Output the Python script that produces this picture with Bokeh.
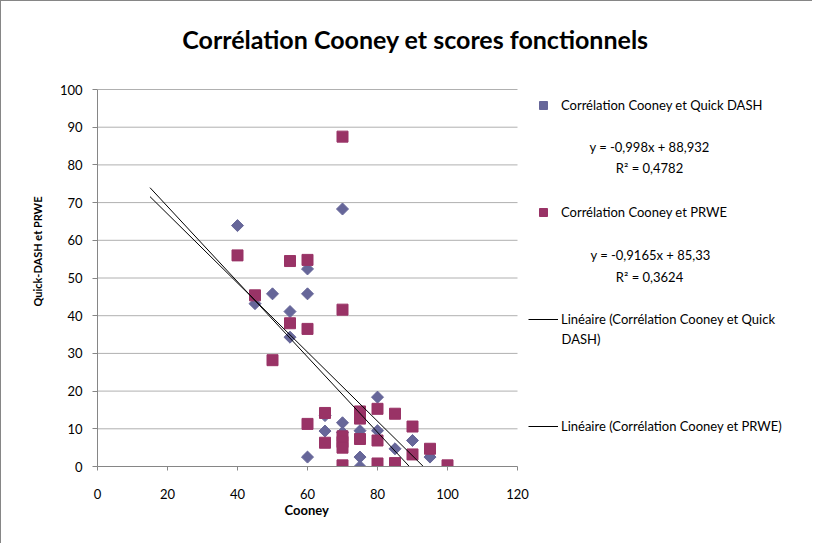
import numpy as np
from bokeh.plotting import figure
from bokeh.models import ColumnDataSource, Legend, LegendItem, Label, FixedTicker, Range1d, Title
from bokeh.embed import file_html
from bokeh.resources import INLINE

# ---------------- data ----------------
chart_title = "Corrélation Cooney et scores fonctionnels"
x_title = "Cooney"
y_title = "Quick-DASH et PRWE"

dash_cooney = [40, 45, 50, 55, 55, 60, 60, 60, 65, 65, 70, 70, 70, 75, 75, 75, 80, 80, 80, 85, 90, 95]
dash_score = [63.9, 43.2, 45.8, 41.1, 34.3, 52.4, 45.8, 2.5, 13.5, 9.4, 68.3, 11.6, 9.0, 9.5, 2.5, 0.0,
              18.4, 9.5, 0.0, 4.7, 6.9, 2.5]

prwe_cooney = [40, 45, 50, 55, 55, 60, 60, 60, 65, 65, 70, 70, 70, 70, 70, 70, 75, 75, 75, 80, 80, 80,
               85, 85, 90, 90, 95, 100]
prwe_score = [56.0, 45.4, 28.2, 54.5, 38.0, 54.8, 36.5, 11.3, 14.2, 6.3, 87.5, 41.6, 8.0, 6.5, 5.0, 0.3,
              14.6, 12.7, 7.3, 15.3, 6.9, 0.8, 14.0, 0.9, 10.6, 3.2, 4.7, 0.3]

series_names = ["Corrélation Cooney et Quick DASH", "Corrélation Cooney et PRWE"]
trend_names = ["Linéaire (Corrélation Cooney et Quick", "Linéaire (Corrélation Cooney et PRWE)"]
trend_wrap = "DASH)"
dash_fit = (-0.998, 88.932)
prwe_fit = (-0.9165, 85.33)
trend_start = 15
eq_texts = ["y = -0,998x + 88,932", "R² = 0,4782", "y = -0,9165x + 85,33", "R² = 0,3624"]

x_ticks = [0, 20, 40, 60, 80, 100, 120]
y_ticks = [0, 10, 20, 30, 40, 50, 60, 70, 80, 90, 100]
x_bounds = (0, 120)
y_bounds = (0, 100)

BLUE = "#666699"
PLUM = "#993366"
FONT = "Lato"
GRID = "#b0b0b0"
AXIS = "#868686"

# ---------------- layout (pixels) ----------------
W, H = 812, 543
LEFT, BOTTOM = 96, 78
PX_X = 3.5     # pixels per x unit
PX_Y = 3.77    # pixels per y unit
frame_w = W - LEFT
frame_h = H - BOTTOM

p = figure(width=W, height=H, output_backend="svg", toolbar_location=None,
           x_range=Range1d(0, frame_w / PX_X), y_range=Range1d(0, frame_h / PX_Y),
           min_border_left=LEFT, min_border_right=0, min_border_top=0, min_border_bottom=BOTTOM)
p.outline_line_color = None
p.background_fill_color = "white"
p.border_fill_color = "white"
p.styles = {"border-left": "1px solid " + AXIS, "border-top": "1px solid " + AXIS}
p.xgrid.visible = False
p.ygrid.visible = False

for ax, ticks, bnd in ((p.xaxis[0], x_ticks, x_bounds), (p.yaxis[0], y_ticks, y_bounds)):
    ax.ticker = FixedTicker(ticks=ticks)
    ax.bounds = bnd
    ax.axis_line_color = AXIS
    ax.major_tick_line_color = AXIS
    ax.minor_tick_line_color = None
    ax.major_tick_in = 0
    ax.major_label_text_font = FONT
    ax.major_label_text_font_size = "13px"
    ax.major_label_text_color = "black"

p.xaxis.major_tick_out = 4
p.xaxis.major_label_standoff = 18
p.yaxis.major_tick_out = 5
p.yaxis.major_label_standoff = 10

# axis titles, centred on the axis extent (not on the whole frame)
p.add_layout(Title(text=x_title, align="left", offset=187, vertical_align="top", standoff=0,
                   text_font=FONT, text_font_size="13px", text_font_style="bold", text_color="black"),
             "below")
p.add_layout(Title(text=y_title, align="left", offset=160, vertical_align="middle", standoff=24,
                   text_font=FONT, text_font_size="11px", text_font_style="bold", text_color="black"),
             "left")

# horizontal gridlines limited to the axis extent
grid_y = y_ticks[1:]
p.segment(x0=[x_bounds[0]] * len(grid_y), x1=[x_bounds[1]] * len(grid_y), y0=grid_y, y1=grid_y,
          line_color=GRID, line_width=1, level="underlay")

# scatter series
src_dash = ColumnDataSource(dict(x=dash_cooney, y=dash_score))
src_prwe = ColumnDataSource(dict(x=prwe_cooney, y=prwe_score))
r_dash = p.scatter("x", "y", source=src_dash, marker="square", angle=np.pi / 4, size=8.5,
                   fill_color=BLUE, line_color=BLUE)
r_prwe = p.scatter("x", "y", source=src_prwe, marker="square", size=11,
                   fill_color=PLUM, line_color=PLUM)

# trend lines
def trend(fit):
    a, b = fit
    xs = np.array([trend_start, -b / a])
    return dict(x=xs, y=a * xs + b)

r_tdash = p.line("x", "y", source=ColumnDataSource(trend(dash_fit)), line_color="black", line_width=1)
r_tprwe = p.line("x", "y", source=ColumnDataSource(trend(prwe_fit)), line_color="black", line_width=1)

# legend
legend = Legend(items=[
    LegendItem(label=series_names[0], renderers=[r_dash]),
    LegendItem(label=series_names[1], renderers=[r_prwe]),
    LegendItem(label=trend_names[0], renderers=[r_tdash]),
    LegendItem(label=trend_names[1], renderers=[r_tprwe]),
], location=(431, 30), glyph_width=30, glyph_height=20, label_height=20, spacing=87,
    padding=0, margin=0, label_standoff=3, border_line_color=None, background_fill_alpha=0,
    label_text_font=FONT, label_text_font_size="13px", label_text_color="black")
p.add_layout(legend)

# page pixel -> data helpers (frame starts at page x=97; y=0 sits at page y=466)
def px2x(px):
    return (px - (LEFT + 1)) / PX_X

def py2y(py):
    return (frame_h + 1 - py) / PX_Y

eq_pos = [(649, 146), (649, 167), (650, 254), (649, 276)]
for t, (ex, ey) in zip(eq_texts, eq_pos):
    p.add_layout(Label(x=px2x(ex), y=py2y(ey), text=t, text_align="center", text_baseline="middle",
                       text_font=FONT, text_font_size="13px", text_color="black"))

p.add_layout(Label(x=px2x(561), y=py2y(338), text=trend_wrap, text_align="left", text_baseline="middle",
                   text_font=FONT, text_font_size="13px", text_color="black"))

p.add_layout(Label(x=px2x(415), y=py2y(38), text=chart_title, text_align="center", text_baseline="middle",
                   text_font=FONT, text_font_size="25px", text_font_style="bold", text_color="black"))

open("out.html", "w").write(file_html(p, INLINE))
